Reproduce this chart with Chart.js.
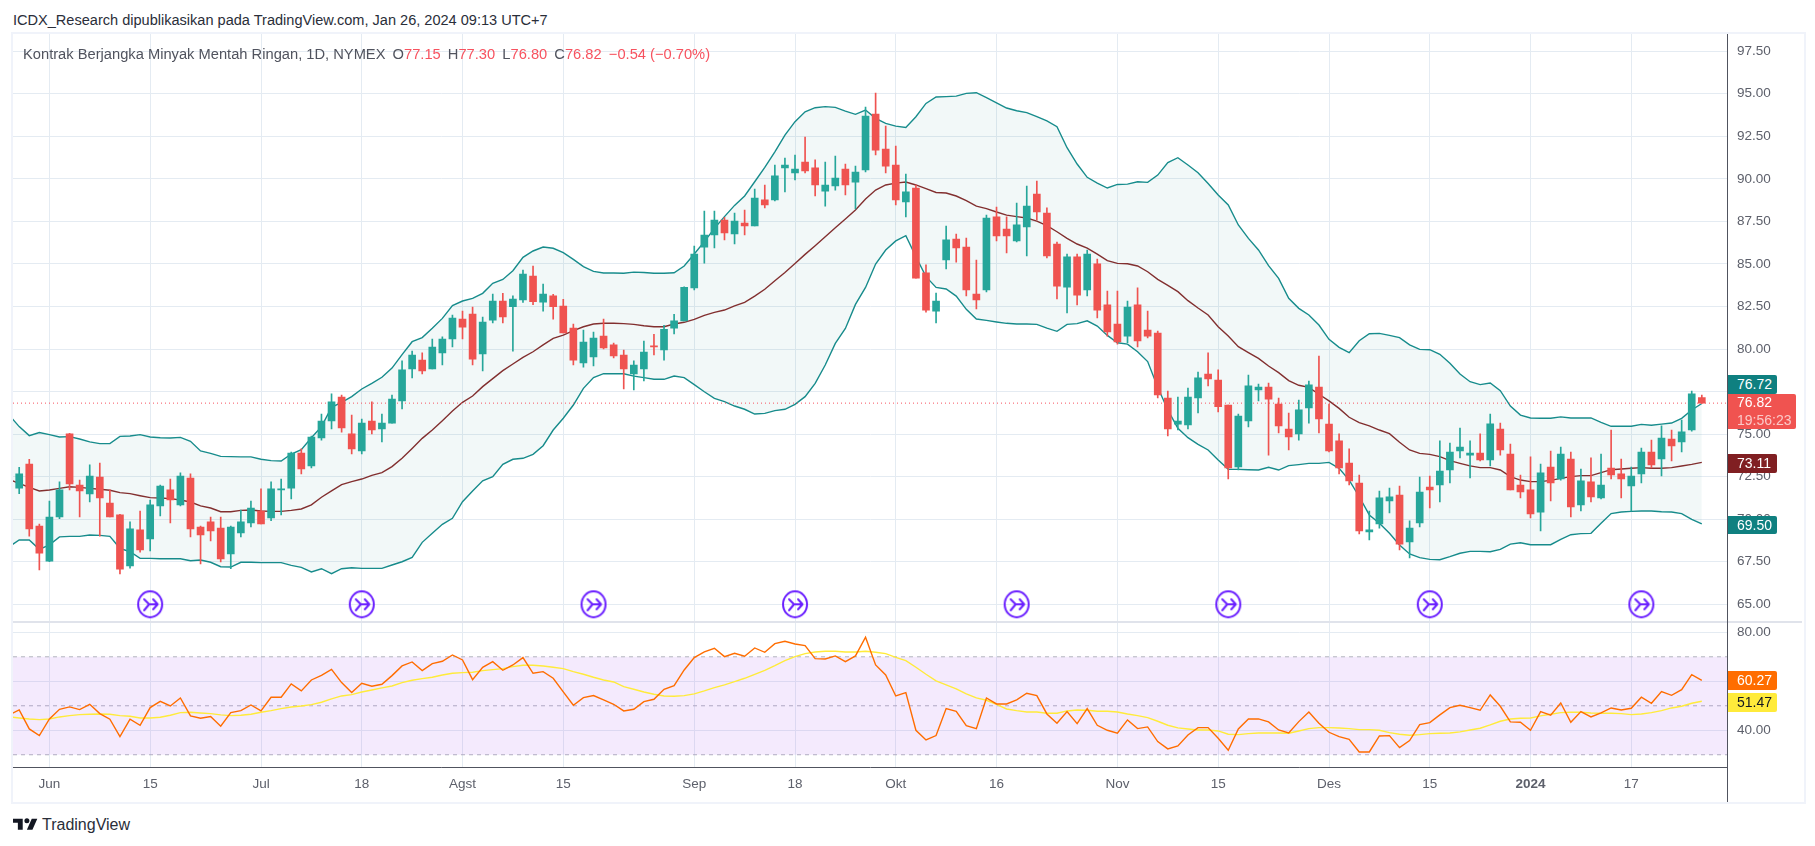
<!DOCTYPE html>
<html>
<head>
<meta charset="utf-8">
<title>Kontrak Berjangka Minyak Mentah Ringan</title>
<script src="https://cdn.jsdelivr.net/npm/chart.js@4/dist/chart.umd.min.js"></script>
<style>
html, body { margin: 0; padding: 0; background: #fff; width: 1815px; height: 846px; overflow: hidden; }
body { font-family: "Liberation Sans", sans-serif; position: relative; }
.abs { position: absolute; white-space: nowrap; }
canvas { position: absolute; display: block; }
#publish { left: 13px; top: 11px; font-size: 14.55px; line-height: 18px; color: #2a2e39; }
#frame { left: 11px; top: 32px; width: 1791px; height: 768px; border: 2px solid #f0f3fa; }
#legend { left: 23px; top: 45px; font-size: 14.7px; line-height: 18px; color: #50535e; }
#legend b { font-weight: normal; color: #f7525f; }
#legend span { margin-left: 3px; }
#sep { left: 13px; top: 621px; width: 1789px; height: 2px; background: #e0e3eb; }
#axisV { left: 1727px; top: 34px; width: 1px; height: 768px; background: #50535e; }
.tag { left: 1727.5px; width: 39.5px; height: 18.5px; line-height: 19px; color: #fff; font-size: 14px; text-align: left; padding-left: 9.5px; border-radius: 0 2px 2px 0; }
#foot { left: 42px; top: 815px; font-size: 16px; line-height: 20px; color: #2a2e39; }
#logo { left: 13px; top: 817px; }
</style>
</head>
<body>
<div class="abs" id="publish">ICDX_Research dipublikasikan pada TradingView.com, Jan 26, 2024 09:13 UTC+7</div>
<canvas id="mainChart" width="1789" height="588" style="left:13px;top:34px"></canvas>
<canvas id="rsiChart" width="1789" height="180" style="left:13px;top:622px"></canvas>
<div class="abs" id="frame"></div>
<div class="abs" id="sep"></div>
<div class="abs" id="axisV"></div>
<div class="abs" id="legend">Kontrak Berjangka Minyak Mentah Ringan, 1D, NYMEX <span>O<b>77.15</b></span> <span>H<b>77.30</b></span> <span>L<b>76.80</b></span> <span>C<b>76.82</b></span> <span><b>−0.54 (−0.70%)</b></span></div>
<div class="abs tag" style="top:375px;background:#0f8080">76.72</div>
<div class="abs tag" style="top:394px;width:59px;height:35px;background:#f05350;line-height:17.5px">76.82<br><span style="color:#fbc9c8">19:56:23</span></div>
<div class="abs tag" style="top:454px;background:#801f22">73.11</div>
<div class="abs tag" style="top:515.5px;background:#0f8080">69.50</div>
<div class="abs tag" style="top:671px;background:#ff6d00">60.27</div>
<div class="abs tag" style="top:693px;background:#ffeb3b;color:#131722">51.47</div>
<svg class="abs" id="logo" width="25" height="13" viewBox="0 4 36 18"><path fill="#131722" d="M14 6H0v6h7v10h7V6zM28 22h-8l7-16h8l-7 16z"/><circle fill="#131722" cx="20" cy="9" r="3.6"/></svg>
<div class="abs" id="foot">TradingView</div>

<script>
var highs = [73.05,73.52,69.72,71.07,72.19,75.05,72.30,73.19,73.30,71.72,70.29,69.84,70.48,71.13,72.01,72.36,72.72,72.66,69.60,70.13,70.13,69.60,70.54,71.07,71.78,72.19,72.36,73.95,74.13,74.89,76.18,77.36,77.30,76.12,75.89,76.89,76.18,77.30,79.30,79.88,79.77,80.59,80.71,82.00,82.23,82.47,81.88,83.23,83.27,83.12,84.64,84.88,83.82,83.21,82.92,81.47,81.12,81.00,81.76,80.35,79.94,79.30,80.47,80.86,81.39,82.04,83.66,86.05,88.11,88.11,87.74,87.99,88.17,89.40,89.64,90.81,91.22,91.40,92.46,91.11,90.99,91.34,90.87,90.75,94.22,95.04,93.10,91.93,90.28,89.64,84.94,83.29,87.23,86.76,86.52,85.23,87.87,88.34,87.76,88.58,89.58,89.87,88.29,86.29,85.58,85.58,85.82,85.29,83.41,83.41,82.82,83.59,82.23,81.06,77.53,77.18,77.71,78.65,79.77,78.77,76.71,76.18,78.47,77.94,78.00,77.12,76.24,77.00,78.12,79.59,76.77,75.01,74.13,72.60,70.48,71.66,71.83,71.95,69.90,72.48,72.54,74.60,74.48,75.36,74.60,75.01,76.18,75.65,74.42,72.60,73.66,73.24,74.01,74.24,73.95,72.95,73.60,73.83,75.24,73.54,73.07,74.18,74.65,75.48,75.24,75.83,77.53,77.30];
var opens = [71.83,73.24,69.60,67.54,70.13,75.01,72.01,71.48,72.48,70.95,70.25,67.25,69.37,68.84,70.78,71.72,70.84,72.42,69.54,69.84,69.48,67.96,69.19,69.78,70.48,70.07,71.72,71.83,73.89,73.13,74.77,75.77,77.18,75.01,74.01,75.77,75.30,75.65,76.95,78.83,79.35,78.83,79.77,80.59,81.76,82.06,79.71,81.70,82.82,82.49,82.88,84.29,82.76,83.12,82.53,81.23,79.18,79.53,80.76,80.24,79.65,78.53,78.83,80.18,79.94,81.23,81.65,83.59,85.99,86.70,87.58,86.76,87.40,87.23,88.76,88.76,90.64,90.34,90.99,90.64,89.28,89.58,90.58,89.81,90.52,93.81,91.75,90.81,88.64,89.46,84.47,82.23,85.23,86.46,85.99,83.23,83.47,87.76,87.05,86.35,87.17,89.11,87.99,86.17,83.64,85.41,83.47,85.00,82.59,81.47,80.76,82.59,81.12,80.94,77.12,75.59,75.54,77.12,78.53,78.18,76.71,73.07,75.77,77.59,77.77,76.77,75.30,75.01,76.54,77.77,75.59,74.60,73.30,72.13,69.25,69.72,71.07,71.42,68.66,69.78,71.89,72.01,72.89,74.01,73.77,73.89,73.48,75.30,73.83,72.01,71.72,70.42,73.07,72.36,73.54,70.84,72.19,71.25,73.01,72.66,71.95,72.66,73.95,73.54,74.71,74.54,75.24,77.15];
var closes = [72.66,69.43,68.01,70.13,71.72,72.07,71.66,72.54,71.25,70.13,67.07,69.43,68.19,70.84,71.95,71.13,72.54,69.43,69.07,69.31,67.66,69.54,69.84,70.66,69.72,71.78,71.78,73.89,72.95,74.83,75.77,76.89,75.36,74.13,75.65,75.24,75.65,77.06,78.77,79.65,78.71,80.12,80.59,81.82,81.29,79.41,81.59,82.82,81.88,82.94,84.41,82.78,83.23,82.49,80.94,79.35,80.41,80.65,80.06,79.59,78.83,79.06,79.82,80.12,81.16,81.65,83.62,85.58,86.70,87.58,86.82,87.52,87.23,88.87,88.46,90.17,90.81,90.58,90.46,89.64,89.64,90.05,89.64,90.40,93.69,91.69,90.75,88.76,89.23,84.17,82.29,82.82,86.41,85.94,83.47,82.88,87.70,86.64,86.64,87.29,88.40,88.05,85.47,83.70,85.41,83.17,85.58,82.29,81.00,80.41,82.47,80.47,80.76,77.30,75.30,75.77,77.18,78.30,78.24,76.61,73.01,76.06,77.83,77.77,77.06,75.48,74.83,76.42,77.89,75.89,74.01,73.01,72.25,69.31,69.37,71.25,71.31,68.54,69.48,71.60,71.72,72.83,73.95,74.24,73.89,73.48,75.60,74.07,71.72,71.60,70.31,72.72,72.13,73.83,70.72,72.25,71.31,72.01,72.60,72.36,72.54,73.95,73.19,74.77,74.30,75.13,77.36,76.82];
var lows = [71.50,69.01,67.02,67.50,70.03,71.72,70.13,71.01,69.01,70.13,66.78,67.13,68.07,68.13,70.19,69.78,70.78,68.96,67.37,68.72,67.49,67.09,68.96,69.54,69.72,69.91,70.25,71.19,72.66,73.01,74.65,75.30,75.12,73.83,73.83,75.01,74.54,75.65,76.48,78.30,78.53,78.83,79.06,80.12,80.59,79.06,78.71,81.53,81.53,79.88,82.74,82.61,82.23,81.76,80.94,79.06,78.94,79.00,80.00,79.47,77.65,77.59,78.12,79.65,79.35,80.88,81.65,83.47,85.05,85.94,86.41,86.17,86.70,87.23,88.29,88.70,89.23,89.93,90.34,88.99,88.40,89.34,89.05,88.23,90.40,91.40,90.34,88.46,87.76,84.17,82.17,81.53,84.70,85.11,83.12,82.35,83.35,86.35,85.64,86.29,85.47,87.58,85.35,82.94,82.12,82.59,83.12,81.82,80.76,80.29,80.37,80.12,80.65,77.12,74.89,75.24,75.30,76.24,77.83,76.30,72.36,72.89,75.42,76.95,73.77,75.07,74.07,74.65,75.65,75.07,73.95,72.66,72.01,69.13,68.78,69.48,70.37,68.19,67.72,69.54,70.66,71.01,72.13,73.60,72.42,73.42,73.13,73.77,71.72,71.25,70.07,69.31,71.07,72.30,70.13,70.48,71.01,71.19,72.36,71.25,70.48,72.13,73.01,72.54,73.42,73.95,75.18,76.80];

// bands and rsi start one bar before the first candle, off the left edge
var firstBandBar = -1;
var bbUpper = [76.12,75.44,74.91,75.09,74.97,74.83,74.85,74.71,74.54,74.44,74.44,74.87,74.89,74.97,74.83,74.79,74.77,74.81,74.58,74.01,73.87,73.69,73.68,73.66,73.66,73.52,73.44,73.42,73.83,74.09,74.79,75.44,76.57,76.87,77.20,77.65,77.98,78.34,78.88,79.67,80.43,80.67,81.22,81.80,82.55,82.82,82.98,83.27,83.86,84.09,84.60,85.39,85.76,85.99,85.92,85.66,85.27,84.84,84.56,84.47,84.47,84.45,84.52,84.50,84.45,84.45,84.48,84.88,85.58,86.31,87.09,87.78,88.44,88.99,89.83,90.67,91.59,92.57,93.36,93.94,94.18,94.24,94.20,93.98,93.79,94.04,93.55,93.26,93.10,93.02,93.65,94.43,94.81,94.83,94.86,95.02,95.06,94.77,94.47,94.16,94.00,93.89,93.65,93.40,93.06,91.83,90.87,90.09,89.75,89.46,89.67,89.69,89.83,89.79,90.22,90.95,91.24,90.81,90.36,89.73,89.05,88.46,87.29,86.50,85.82,84.90,84.15,82.98,82.39,82.00,81.41,80.57,80.10,79.79,80.49,80.90,80.92,80.80,80.67,80.24,79.98,79.96,79.69,79.16,78.53,78.08,77.91,78.00,77.55,76.65,76.12,75.95,75.93,75.93,76.01,75.95,75.95,75.95,75.69,75.46,75.46,75.46,75.57,75.52,75.59,75.65,75.93,76.42,76.80];
var bbMiddle = [72.34,72.11,71.87,71.66,71.72,71.81,71.91,71.87,71.81,71.76,71.70,71.56,71.50,71.38,71.27,71.25,71.21,71.13,71.01,70.78,70.66,70.44,70.44,70.52,70.54,70.48,70.46,70.46,70.52,70.60,70.84,71.29,71.66,72.03,72.21,72.36,72.58,72.74,73.09,73.58,74.16,74.75,75.24,75.79,76.36,76.87,77.24,77.79,78.26,78.73,79.12,79.51,79.84,80.24,80.63,80.82,81.08,81.31,81.47,81.51,81.51,81.49,81.45,81.37,81.31,81.31,81.47,81.57,81.74,81.98,82.15,82.29,82.53,82.74,83.11,83.51,84.01,84.50,85.03,85.56,86.07,86.60,87.13,87.64,88.17,88.81,89.34,89.64,89.75,89.81,89.64,89.42,89.20,89.17,88.99,88.72,88.40,88.25,88.05,87.87,87.78,87.70,87.52,87.25,86.89,86.50,86.17,85.93,85.58,85.19,85.03,85.01,84.88,84.54,84.09,83.74,83.37,82.84,82.41,82.00,81.31,80.76,80.14,79.79,79.45,79.00,78.61,78.14,77.87,77.75,77.34,76.95,76.51,75.99,75.67,75.48,75.24,75.03,74.52,74.07,73.87,73.81,73.68,73.44,73.28,73.13,73.03,73.03,72.89,72.50,72.30,72.21,72.21,72.28,72.40,72.50,72.56,72.56,72.74,72.91,72.95,72.99,73.03,72.99,72.99,73.03,73.13,73.22,73.34];
var bbLower = [68.39,68.78,68.78,68.23,68.49,68.96,68.99,68.99,69.07,69.05,68.99,68.29,68.09,67.70,67.70,67.68,67.68,67.68,67.56,67.60,67.47,67.21,67.19,67.47,67.47,67.45,67.45,67.45,67.29,67.17,66.90,67.09,66.80,67.09,67.15,67.11,67.11,67.11,67.31,67.50,67.76,68.64,69.17,69.70,70.05,71.03,71.66,72.26,72.50,73.22,73.52,73.58,73.81,74.32,75.24,75.93,76.71,77.69,78.32,78.55,78.55,78.55,78.41,78.32,78.22,78.22,78.41,78.32,77.91,77.49,77.10,76.91,76.65,76.46,76.18,76.22,76.38,76.46,76.75,77.20,77.98,79.06,80.33,81.21,82.62,83.62,84.99,85.82,86.35,86.66,85.42,84.25,83.62,83.53,83.11,82.33,81.76,81.68,81.59,81.51,81.47,81.47,81.45,81.23,81.04,81.45,81.49,81.66,81.35,80.80,80.37,80.29,79.84,79.26,77.75,76.42,75.34,74.79,74.40,74.07,73.48,72.93,72.93,72.91,72.89,73.05,72.89,73.15,73.21,73.28,73.28,73.34,72.99,72.30,71.32,70.25,69.76,69.17,68.49,67.96,67.74,67.64,67.62,67.80,68.00,68.11,68.11,68.09,68.23,68.54,68.62,68.50,68.50,68.50,68.82,69.09,69.15,69.17,69.76,70.33,70.42,70.46,70.48,70.48,70.44,70.42,70.33,69.99,69.72];
var rsiValues = [46.26,48.30,40.54,37.82,44.62,48.57,49.52,48.43,50.61,46.80,44.49,37.41,44.49,42.04,49.25,51.83,49.93,53.19,45.85,44.90,45.58,41.63,47.21,48.02,50.34,47.89,53.47,53.47,58.91,56.05,60.54,62.45,64.89,59.45,55.37,59.18,57.96,58.77,62.31,66.26,67.89,64.35,67.21,68.16,70.74,68.70,60.68,65.71,68.02,64.49,66.66,69.66,63.26,63.94,61.22,55.64,50.20,53.33,54.15,52.38,50.61,47.89,48.57,51.70,52.65,56.73,58.23,64.62,69.66,71.97,73.47,70.06,71.42,70.20,73.60,71.83,75.37,76.32,75.23,74.55,69.25,69.11,70.34,68.02,70.34,77.96,66.66,62.58,54.01,55.37,40.00,36.05,37.82,48.84,47.75,41.90,40.68,53.19,50.75,50.75,52.38,55.10,54.15,46.66,42.85,47.62,42.72,48.84,42.04,40.00,38.77,44.21,40.68,41.36,35.37,32.38,33.60,38.09,41.09,41.09,36.73,31.83,40.54,44.62,44.62,43.40,40.13,38.91,43.53,47.48,42.85,39.18,37.41,36.32,31.15,31.15,37.68,37.82,32.92,35.78,42.31,43.13,46.26,49.25,50.20,49.25,48.16,54.42,49.79,43.40,43.26,40.00,47.62,46.12,51.15,43.26,47.62,45.44,47.07,49.11,48.30,48.98,53.47,51.02,55.78,54.28,56.60,62.72,60.41];
var rsiAverage = [45.44,45.03,44.62,44.35,44.62,45.44,45.98,46.39,46.53,46.66,46.53,45.98,45.71,45.03,45.03,45.30,46.12,47.21,47.34,47.07,46.80,46.26,45.98,46.12,46.53,47.34,48.02,48.84,49.52,49.93,50.47,51.43,52.79,54.01,54.55,55.64,56.46,57.28,58.09,59.45,60.41,61.08,61.63,62.58,63.26,63.53,63.67,64.35,64.76,65.17,65.98,66.53,66.53,66.26,65.71,65.17,63.94,62.85,61.63,60.54,59.72,57.82,56.73,55.64,54.69,54.01,53.88,54.15,54.83,56.05,57.41,58.50,59.86,61.22,62.85,64.49,66.39,68.43,70.06,71.29,71.97,72.24,72.24,71.97,71.97,72.24,71.83,71.29,69.79,68.43,65.71,62.85,60.13,58.50,56.87,54.83,53.19,52.24,50.61,48.70,48.02,47.48,47.48,46.94,46.94,47.89,48.30,48.16,47.75,47.75,47.48,46.66,45.98,45.17,43.67,42.04,40.95,40.54,40.13,40.13,39.72,38.36,38.23,38.64,38.91,38.91,38.91,38.77,39.72,40.68,41.09,41.09,40.95,40.68,40.27,40.27,40.00,39.05,38.36,37.96,38.23,38.64,38.77,38.91,39.32,40.13,40.81,42.17,43.67,44.62,44.90,45.03,45.85,46.53,47.21,47.34,47.34,47.07,46.94,46.94,46.80,46.39,46.66,47.21,48.02,49.11,49.79,51.02,51.83];

var priceTicks = [65,67.5,70,72.5,75,77.5,80,82.5,85,87.5,90,92.5,95,97.5];
var rsiTicks = [40,60,80];
var rsiDashed = [70,50,30];
var timeBars = [3,13,24,34,44,54,67,77,87,97,109,119,130,140,150,160];
var timeLabels = ['Jun','15','Jul','18','Agst','15','Sep','18','Okt','16','Nov','15','Des','15','2024','17'];
var ideaBars = [13,34,57,77,99,120,140,161];
var ideaPrice = 65;

var xMin = -0.615, xMax = 169.55;
var UP = '#26a69a', DOWN = '#ef5350';
var gridColor = '#e4ebf2', tickColor = '#5d606b', tickFont = { family: '"Liberation Sans"', size: 13.5 };

function bars(a, b) { return a.map(function (v, i) { return { x: i, y: [v, b[i]] }; }); }
function band(values) { return values.map(function (v, i) { return { x: i + firstBandBar, y: v }; }); }
function level(v) { return [{ x: xMin, y: v }, { x: xMax, y: v }]; }
var candleColors = closes.map(function (c, i) { return c >= opens[i] ? UP : DOWN; });

function lineSet(label, data, color, width, extra) {
    return Object.assign({ type: 'line', label: label, data: data, borderColor: color, borderWidth: width, pointRadius: 0, tension: 0, fill: false, order: 5 }, extra || {});
}

// round purple "idea" marker
function ideaIcon() {
    var c = document.createElement('canvas');
    c.width = 28; c.height = 30;
    var g = c.getContext('2d');
    g.strokeStyle = '#6a1fff'; g.lineWidth = 2; g.lineCap = 'round'; g.lineJoin = 'round';
    g.beginPath(); g.ellipse(14, 15, 12, 13, 0, 0, Math.PI * 2); g.stroke();
    g.beginPath();
    g.moveTo(8, 10); g.lineTo(13, 15); g.lineTo(21, 15);
    g.moveTo(17, 10); g.lineTo(21.5, 15); g.lineTo(17, 20);
    g.moveTo(8, 21); g.lineTo(13, 15);
    g.stroke();
    return c;
}

// the panes are lined up by hand, so no scale may ask for extra room
function noPadding(s) { s.paddingLeft = s.paddingRight = s.paddingTop = s.paddingBottom = 0; }

function timeAxis(showLabels) {
    return {
        type: 'linear', min: xMin, max: xMax, offset: false,
        afterBuildTicks: function (s) { s.ticks = timeBars.map(function (v) { return { value: v }; }); },
        afterFit: function (s) { s.height = showLabels ? 35 : 0; noPadding(s); },
        grid: { color: gridColor, drawTicks: false, lineWidth: 1, offset: false },
        border: showLabels ? { display: true, color: '#50535e', width: 1 } : { display: false },
        ticks: {
            display: showLabels, autoSkip: false, maxRotation: 0, minRotation: 0, padding: 9, color: tickColor,
            font: function (ctx) { return ctx.tick && ctx.tick.value === 150 ? { family: tickFont.family, size: 13.5, weight: 'bold' } : tickFont; },
            callback: function (v) { return timeLabels[timeBars.indexOf(v)]; }
        }
    };
}

function valueAxis(min, max, list) {
    return {
        position: 'right', min: min, max: max,
        afterBuildTicks: function (s) { s.ticks = list.map(function (v) { return { value: v }; }); },
        afterFit: function (s) { s.width = 74.5; noPadding(s); },
        grid: { color: gridColor, drawTicks: false, lineWidth: 1 },
        border: { display: false },
        ticks: { autoSkip: false, padding: 9.5, color: tickColor, font: tickFont, callback: function (v) { return v.toFixed(2); } }
    };
}

var common = { responsive: false, animation: false, devicePixelRatio: 1, layout: { padding: 0, autoPadding: false }, events: [], plugins: { legend: { display: false }, tooltip: { enabled: false }, title: { display: false } } };

var mainChart = new Chart(document.getElementById('mainChart').getContext('2d'), {
    type: 'bar',
    data: {
        datasets: [
            { label: 'Body', data: bars(opens, closes), backgroundColor: candleColors, barThickness: 7, grouped: false, order: 1 },
            { label: 'Wick', data: bars(lows, highs), backgroundColor: candleColors, barThickness: 1, grouped: false, order: 2 },
            lineSet('Upper', band(bbUpper), '#178c8c', 1.4, { fill: { target: 4 }, backgroundColor: 'rgba(38,140,140,0.06)' }),
            lineSet('Basis', band(bbMiddle), '#882a2a', 1.4),
            lineSet('Lower', band(bbLower), '#178c8c', 1.4),
            lineSet('Last', level(closes[closes.length - 1]), '#f7525f', 1, { borderDash: [1, 3], order: 3 }),
            { type: 'scatter', label: 'Ideas', data: ideaBars.map(function (b) { return { x: b, y: ideaPrice }; }), pointStyle: ideaIcon(), pointRadius: 13, order: 0 }
        ]
    },
    options: Object.assign({}, common, {
        scales: { x: timeAxis(false), y: valueAxis(63.96, 98.51, priceTicks) }
    })
});

var rsiChart = new Chart(document.getElementById('rsiChart').getContext('2d'), {
    type: 'line',
    data: {
        datasets: [
            lineSet('Top', level(rsiDashed[0]), '#b2b5be', 1, { borderDash: [4, 4], fill: { target: 2 }, backgroundColor: 'rgba(155,60,240,0.11)', order: 6 }),
            lineSet('Mid', level(rsiDashed[1]), '#b2b5be', 1, { borderDash: [4, 4], order: 6 }),
            lineSet('Bottom', level(rsiDashed[2]), '#b2b5be', 1, { borderDash: [4, 4], order: 6 }),
            lineSet('RSI MA', band(rsiAverage), '#ffeb3b', 1.4, { order: 2 }),
            lineSet('RSI', band(rsiValues), '#ff6d00', 1.4, { order: 1 })
        ]
    },
    options: Object.assign({}, common, {
        scales: { x: timeAxis(true), y: valueAxis(25.0, 84.2, rsiTicks) }
    })
});
</script>
</body>
</html>
